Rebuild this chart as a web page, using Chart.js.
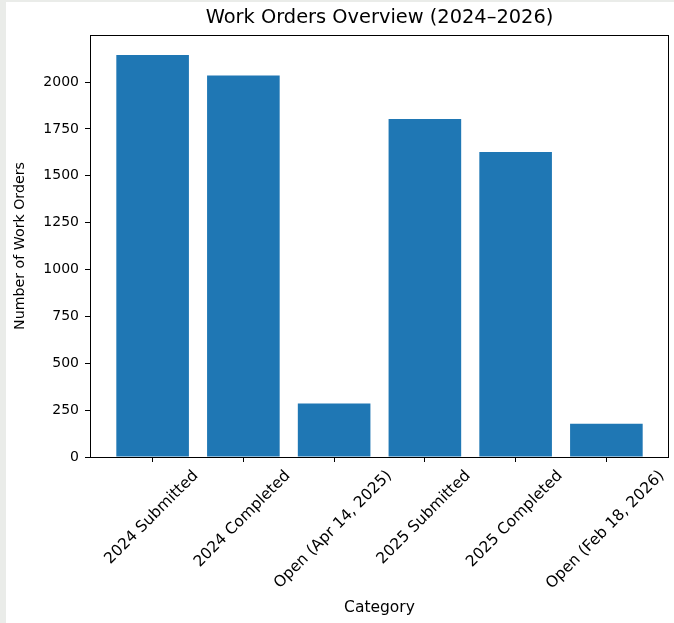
<!DOCTYPE html>
<html lang="en">
<head>
    <meta charset="UTF-8">
    <title>Work Orders Overview</title>
    <script src="https://cdn.jsdelivr.net/npm/chart.js"></script>
    <style>
        body { margin: 0; background: #eaece9; }
        #wrap { position: absolute; left: 6px; top: 2px; width: 668px; height: 621px; background: #fff; }
    </style>
</head>
<body>
    <div id="wrap">
        <canvas id="workOrdersChart" width="668" height="621"></canvas>
    </div>

    <script>
        const categories = ['2024 Submitted', '2024 Completed', 'Open (Apr 14, 2025)', '2025 Submitted', '2025 Completed', 'Open (Feb 18, 2026)'];
        const counts = [2144, 2035, 285, 1803, 1627, 177];
        const yTicks = [0, 250, 500, 750, 1000, 1250, 1500, 1750, 2000];

        const font = 'DejaVu Sans';

        // black box around the plot, like matplotlib spines
        const framePlugin = {
            id: 'frame',
            afterDraw(chart) {
                const { ctx, chartArea: a } = chart;
                ctx.save();
                ctx.strokeStyle = '#000';
                ctx.lineWidth = 1;
                ctx.strokeRect(Math.round(a.left) + 0.5, Math.round(a.top) + 0.5,
                    Math.round(a.right - a.left) - 1, Math.round(a.bottom - a.top));
                ctx.restore();
            }
        };

        // x labels rotated 45deg but centred on the tick (matplotlib default)
        const xLabelPlugin = {
            id: 'xLabels',
            afterDraw(chart) {
                const { ctx, chartArea } = chart;
                const xs = chart.scales.x;
                const size = 15.5;
                ctx.save();
                ctx.font = size + 'px "' + font + '"';
                ctx.fillStyle = '#000';
                ctx.textAlign = 'center';
                ctx.textBaseline = 'middle';
                const top = chartArea.bottom + 5 + 5;
                categories.forEach((label, i) => {
                    const w = ctx.measureText(label).width;
                    const d = (w + size * 1.17) * Math.SQRT1_2;
                    ctx.save();
                    ctx.translate(xs.getPixelForValue(i) - 1, top + d / 2);
                    ctx.rotate(-Math.PI / 4);
                    ctx.fillText(label, 0, 0);
                    ctx.restore();
                });
                ctx.restore();
            }
        };

        new Chart(document.getElementById('workOrdersChart').getContext('2d'), {
            type: 'bar',
            data: {
                datasets: [{
                    data: counts.map((v, i) => ({ x: i, y: v })),
                    backgroundColor: '#1f77b4',
                    borderWidth: 0,
                    barPercentage: 0.8,
                    categoryPercentage: 1
                }]
            },
            options: {
                responsive: false,
                animation: false,
                devicePixelRatio: 1,
                layout: { padding: { left: 0, right: 5, top: 0, bottom: 0 } },
                plugins: {
                    legend: { display: false },
                    tooltip: { enabled: false },
                    title: { display: false }
                },
                scales: {
                    x: {
                        type: 'linear',
                        offset: false,
                        min: -0.69,
                        max: 5.69,
                        afterBuildTicks: s => { s.ticks = categories.map((c, i) => ({ value: i })); },
                        afterFit: s => { s.height = 166; },
                        ticks: { display: false },
                        grid: { display: true, offset: false, drawOnChartArea: false, tickLength: 5, color: '#000' },
                        border: { display: false },
                        title: {
                            display: true,
                            text: 'Category',
                            color: '#000',
                            font: { family: font, size: 15.5 },
                            padding: { top: 0, bottom: 6 }
                        }
                    },
                    x2: {
                        type: 'linear',
                        position: 'top',
                        afterFit: s => { s.height = 33; },
                        ticks: { display: false },
                        grid: { display: false },
                        border: { display: false },
                        title: {
                            display: true,
                            text: 'Work Orders Overview (2024–2026)',
                            color: '#000',
                            font: { family: font, size: 19.4 },
                            padding: { top: 4, bottom: 0 }
                        }
                    },
                    y: {
                        min: 0,
                        max: 2251,
                        afterBuildTicks: s => { s.ticks = yTicks.map(v => ({ value: v })); },
                        afterFit: s => { s.width = 84; },
                        ticks: {
                            color: '#000',
                            padding: 6,
                            font: { family: font, size: 14 },
                            callback: v => String(v)
                        },
                        grid: { display: true, drawOnChartArea: false, tickLength: 5, color: '#000' },
                        border: { display: false },
                        title: {
                            display: true,
                            text: 'Number of Work Orders',
                            color: '#000',
                            font: { family: font, size: 14.2 },
                            padding: { top: 6, bottom: 0 }
                        }
                    }
                }
            },
            plugins: [framePlugin, xLabelPlugin]
        });
    </script>
</body>
</html>
